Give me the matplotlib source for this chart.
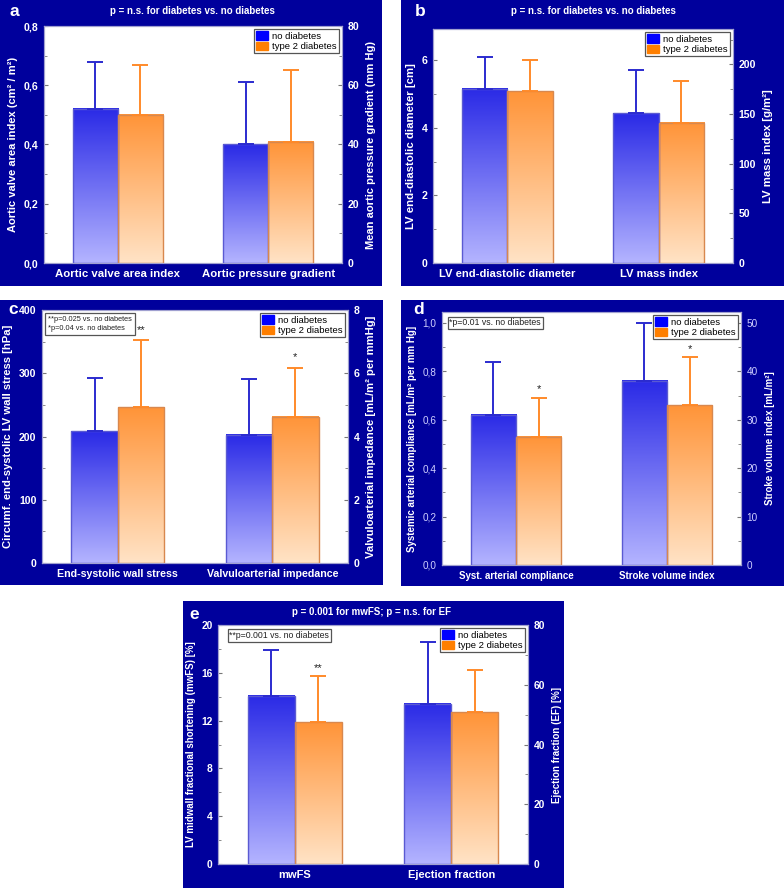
import numpy as np
import matplotlib
matplotlib.use('Agg')
import matplotlib.pyplot as plt
from matplotlib.patches import Rectangle, Patch
from matplotlib.colors import LinearSegmentedColormap
from matplotlib.ticker import MultipleLocator, FuncFormatter

plt.rcParams['font.family'] = ['Liberation Sans', 'DejaVu Sans']

# ---- data ----
panel_letters = ['a', 'b', 'c', 'd', 'e']
panel_titles = ['p = n.s. for diabetes vs. no diabetes',
                'p = n.s. for diabetes vs. no diabetes',
                '', '',
                'p = 0.001 for mwFS; p = n.s. for EF']
categories = [['Aortic valve area index', 'Aortic pressure gradient'],
              ['LV end-diastolic diameter', 'LV mass index'],
              ['End-systolic wall stress', 'Valvuloarterial impedance'],
              ['Syst. arterial compliance', 'Stroke volume index'],
              ['mwFS', 'Ejection fraction']]
left_labels = ['Aortic valve area index (cm² / m²)',
               'LV end-diastolic diameter [cm]',
               'Circumf. end-systolic LV wall stress [hPa]',
               'Systemic arterial compliance [mL/m² per mm Hg]',
               'LV midwall fractional shortening (mwFS) [%]']
right_labels = ['Mean aortic pressure gradient (mm Hg)',
                'LV mass index [g/m²]',
                'Valvuloarterial impedance [mL/m² per mmHg]',
                'Stroke volume index [mL/m²]',
                'Ejection fraction (EF) [%]']
# first value -> left axis, second value -> right axis
no_diab = [[0.52, 40], [5.15, 151], [208, 4.06], [0.62, 38], [14.07, 53.7]]
no_diab_sd = [[0.16, 21], [0.95, 43], [84, 1.77], [0.22, 12], [3.8, 20.7]]
t2_diab = [[0.50, 41], [5.08, 141], [246, 4.62], [0.53, 33], [11.87, 50.8]]
t2_diab_sd = [[0.17, 24], [0.92, 42], [106, 1.56], [0.16, 10], [3.87, 14]]
left_lim = [0.8, 6.92, 400, 1.045, 20]
right_lim = [80, 235.6, 8, 52.25, 80]
left_step = [0.2, 2, 100, 0.2, 4]
right_step = [20, 50, 2, 10, 20]
comma_dec = [True, False, False, True, False]
# significance stars: (group, y value on that group's axis, text)
stars = [[], [], [(0, 368, '**'), (1, 6.5, '*')],
         [(0, 0.728, '*'), (1, 44.6, '*')], [(0, 16.4, '**')]]
notes = ['', '', '**p=0.025 vs. no diabetes\n*p=0.04 vs. no diabetes',
         '*p=0.01 vs. no diabetes', '**p=0.001 vs. no diabetes']

# ---- layout in pixels (x0, y0, x1, y1), top-left origin ----
W, H = 784, 888
boxes = [(0, 0, 382, 286), (401, 0, 784, 286), (0, 300, 383, 585),
         (401, 300, 784, 586), (183, 601, 564, 888)]
plots = [(44, 26, 342, 263), (433, 29, 733, 263), (42, 310, 348, 563),
         (442, 312, 741, 565), (218, 625, 528, 864)]
letter_pos = [(14, 12), (420, 12), (13, 310), (419, 309), (194, 614)]
title_pos = [(192, 11), (593, 11), None, None, (372, 612)]
fs_cat = [8.2, 8.1, 7.7, 7.0, 8.0]
fs_ylab = [8.0, 8.2, 8.1, 7.0, 7.0]
fs_tick = [7.6, 7.6, 7.6, 7.2, 7.4]
fs_note = [6, 6, 5.3, 6.3, 6.3]
note_pad = [0.2, 0.2, 0.45, 0.2, 0.2]
note_x = [0.025, 0.025, 0.02, 0.025, 0.037]

NAVY = '#00009c'
blue_cmap = LinearSegmentedColormap.from_list('b', ['#b4b4ff', '#2a2ae6'])
orange_cmap = LinearSegmentedColormap.from_list('o', ['#ffe3c6', '#ff9438'])

fig = plt.figure(figsize=(W / 100, H / 100), dpi=100)
fig.patch.set_facecolor('white')


def fx(x):
    return x / W


def fy(y):
    return 1 - y / H


def grad_fill(ax, bars, cmap):
    for b in bars:
        x0, y0, w, h = b.get_x(), b.get_y(), b.get_width(), b.get_height()
        g = np.linspace(0, 1, 256).reshape(-1, 1)
        ax.imshow(g, extent=[x0, x0 + w, y0, y0 + h], origin='lower',
                  aspect='auto', cmap=cmap, zorder=1.5, clip_path=b)
        b.set_facecolor('none')


bw = 0.3
for i in range(5):
    bx0, by0, bx1, by1 = boxes[i]
    fig.patches.append(Rectangle((fx(bx0), fy(by1)), fx(bx1 - bx0), (by1 - by0) / H,
                                 transform=fig.transFigure, facecolor=NAVY,
                                 edgecolor='none', zorder=-1))
    px0, py0, px1, py1 = plots[i]
    ax = fig.add_axes([fx(px0), fy(py1), fx(px1 - px0), (py1 - py0) / H])
    ax2 = ax.twinx()
    axes = [ax, ax2]
    for g in range(2):
        a = axes[g]
        b1 = a.bar([g - bw / 2], [no_diab[i][g]], bw, edgecolor='#5a5ad2',
                   linewidth=1, zorder=2)
        b2 = a.bar([g + bw / 2], [t2_diab[i][g]], bw, edgecolor='#d8884e',
                   linewidth=1, zorder=2)
        grad_fill(a, b1, blue_cmap)
        grad_fill(a, b2, orange_cmap)
        a.errorbar([g - bw / 2], [no_diab[i][g]], yerr=[[0], [no_diab_sd[i][g]]],
                   fmt='none', ecolor='#2b2bcf', elinewidth=1.4, capsize=5.5,
                   capthick=1.4, zorder=3)
        a.errorbar([g + bw / 2], [t2_diab[i][g]], yerr=[[0], [t2_diab_sd[i][g]]],
                   fmt='none', ecolor='#ff8a2a', elinewidth=1.4, capsize=5.5,
                   capthick=1.4, zorder=3)
    # stars go on the twin axes so they sit above the note box
    for g, yv, s in stars[i]:
        tr = axes[g].transData
        ax2.text(g + bw / 2, yv, s, ha='center', va='center', fontsize=8,
                 color='#222222', zorder=6, transform=tr)
    ax.set_xlim(-0.49, 1.49)
    ax.set_ylim(0, left_lim[i])
    ax2.set_ylim(0, right_lim[i])
    ax.set_xticks([0, 1])
    ax.set_xticklabels(categories[i], color='white', fontsize=fs_cat[i],
                       fontweight='bold')
    ax.tick_params(axis='x', length=0, pad=4)
    ax.yaxis.set_major_locator(MultipleLocator(left_step[i]))
    ax.yaxis.set_minor_locator(MultipleLocator(left_step[i] / 2))
    ax2.yaxis.set_major_locator(MultipleLocator(right_step[i]))
    ax2.yaxis.set_minor_locator(MultipleLocator(right_step[i] / 2))
    if comma_dec[i]:
        ax.yaxis.set_major_formatter(
            FuncFormatter(lambda v, p: ('%.1f' % v).replace('.', ',')))
    else:
        ax.yaxis.set_major_formatter(FuncFormatter(lambda v, p: '%g' % v))
    ax2.yaxis.set_major_formatter(FuncFormatter(lambda v, p: '%g' % v))
    lab_w = 'normal' if i == 3 else 'bold'
    lab_c = '#d0d0ff' if i == 3 else 'white'
    for a in axes:
        a.tick_params(axis='y', which='both', direction='in', colors='#777777',
                      labelcolor=lab_c, labelsize=fs_tick[i], pad=4)
        a.tick_params(axis='y', which='major', length=3)
        a.tick_params(axis='y', which='minor', length=2)
        for lbl in a.get_yticklabels():
            lbl.set_fontweight(lab_w)
        for sp in a.spines.values():
            sp.set_color('#a0a0d0')
            sp.set_linewidth(0.8)
    ax.set_ylabel(left_labels[i], color='white', fontsize=fs_ylab[i],
                  fontweight='bold', labelpad=4)
    ax2.set_ylabel(right_labels[i], color='white', fontsize=fs_ylab[i],
                   fontweight='bold', labelpad=5)
    handles = [Patch(facecolor='#0000ff', edgecolor='#0000ff'),
               Patch(facecolor='#ff7f00', edgecolor='#ff7f00')]
    leg = ax2.legend(handles, ['no diabetes', 'type 2 diabetes'],
                     loc='upper right', fontsize=6.8, frameon=True, fancybox=False,
                     edgecolor='#555555', framealpha=1, borderpad=0.25,
                     handlelength=1.3, handleheight=1.0, handletextpad=0.4,
                     labelspacing=0.1, borderaxespad=0.3)
    leg.get_frame().set_linewidth(0.9)
    if notes[i]:
        ax2.text(note_x[i], 0.975, notes[i], transform=ax2.transAxes, ha='left',
                 va='top', fontsize=fs_note[i], color='#222222', linespacing=1.3,
                 bbox=dict(boxstyle='square,pad=%g' % note_pad[i],
                           facecolor='white', edgecolor='#555555',
                           linewidth=0.9), zorder=5)
    lx, ly = letter_pos[i]
    fig.text(fx(lx), fy(ly), panel_letters[i], color='white', fontsize=12.5,
             fontweight='bold', ha='center', va='center')
    if title_pos[i] is not None:
        tx, ty = title_pos[i]
        fig.text(fx(tx), fy(ty), panel_titles[i], color='white', fontsize=7,
                 fontweight='bold', ha='center', va='center')

fig.savefig('out.png', dpi=100, facecolor='white')
